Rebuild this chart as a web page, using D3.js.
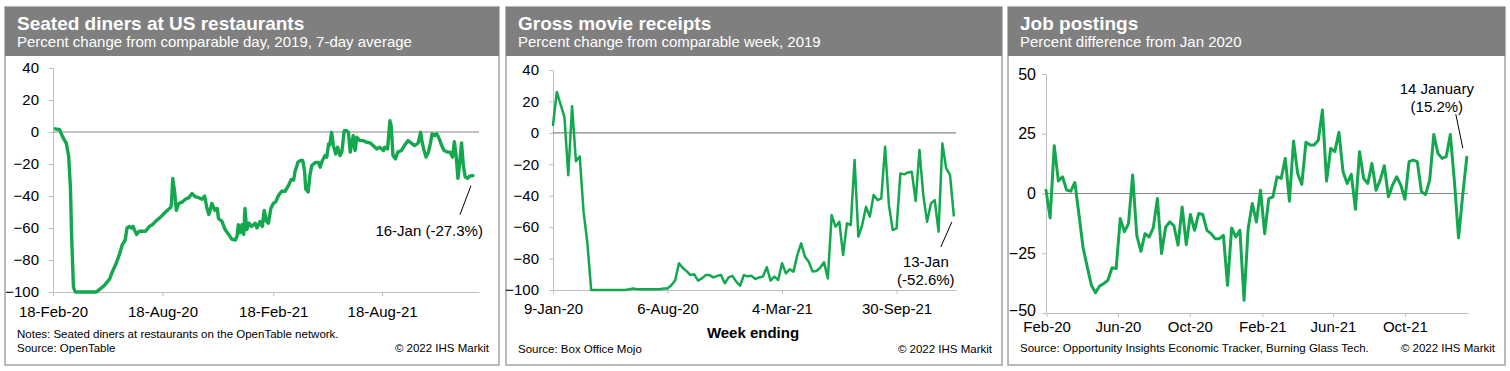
<!DOCTYPE html>
<html>
<head>
<meta charset="utf-8">
<script src="https://cdn.jsdelivr.net/npm/d3@7"></script>
<style>
    body { margin: 0; background: #fff; }
    svg text { font-family: "Liberation Sans", Arial, sans-serif; }
</style>
</head>
<body>
<svg id="chart" width="1510" height="371"></svg>
<script>
// Seated diners, 7-day average
var dinersDates = ["2020-02-22","2020-02-29","2020-03-05","2020-03-11","2020-03-15","2020-03-18","2020-03-20","2020-03-23","2020-03-26","2020-04-30",
    "2020-05-05","2020-05-13","2020-05-22","2020-05-27","2020-06-01","2020-06-07","2020-06-12","2020-06-17","2020-06-20","2020-06-24",
    "2020-06-27","2020-06-30","2020-07-02","2020-07-06","2020-07-10","2020-07-16","2020-07-21","2020-07-27","2020-08-01","2020-08-07",
    "2020-08-12","2020-08-18","2020-08-23","2020-08-29","2020-09-01","2020-09-02","2020-09-04","2020-09-07","2020-09-10","2020-09-14",
    "2020-09-20","2020-09-25","2020-10-01","2020-10-06","2020-10-12","2020-10-17","2020-10-23","2020-10-27","2020-10-31","2020-11-03",
    "2020-11-06","2020-11-08","2020-11-13","2020-11-17","2020-11-19","2020-11-25","2020-11-30","2020-12-06","2020-12-11","2020-12-17",
    "2020-12-20","2020-12-22","2020-12-25","2020-12-28","2020-12-31","2021-01-02","2021-01-05","2021-01-09","2021-01-13","2021-01-19",
    "2021-01-22","2021-01-27","2021-01-31","2021-02-03","2021-02-07","2021-02-10","2021-02-14","2021-02-18","2021-02-22","2021-02-27",
    "2021-03-04","2021-03-10","2021-03-15","2021-03-20","2021-03-24","2021-03-26","2021-03-31","2021-04-04","2021-04-08","2021-04-11",
    "2021-04-13","2021-04-17","2021-04-20","2021-04-23","2021-04-29","2021-05-04","2021-05-07","2021-05-10","2021-05-15","2021-05-18",
    "2021-05-21","2021-05-23","2021-05-26","2021-05-29","2021-06-02","2021-06-05","2021-06-09","2021-06-12","2021-06-16","2021-06-20",
    "2021-06-23","2021-06-26","2021-06-28","2021-07-01","2021-07-04","2021-07-07","2021-07-12","2021-07-18","2021-07-23","2021-07-29",
    "2021-08-03","2021-08-09","2021-08-14","2021-08-20","2021-08-22","2021-08-27","2021-08-31","2021-09-02","2021-09-05","2021-09-09",
    "2021-09-13","2021-09-19","2021-09-24","2021-09-30","2021-10-05","2021-10-11","2021-10-17","2021-10-21","2021-10-23","2021-10-26",
    "2021-10-30","2021-11-03","2021-11-06","2021-11-09","2021-11-13","2021-11-17","2021-11-21","2021-11-25","2021-11-29","2021-12-05",
    "2021-12-09","2021-12-13","2021-12-16","2021-12-19","2021-12-22","2021-12-25","2021-12-28","2021-12-31","2022-01-03","2022-01-07",
    "2022-01-11","2022-01-16"];
var dinersValues = [2,1.5,-3,-7,-15,-35,-66,-97,-100,-100,
    -98.5,-96,-92,-87,-83,-77,-70.6,-67.5,-60,-59,
    -60,-59,-61,-64,-62,-62,-62,-59,-58,-55.7,
    -54,-52,-50,-48,-47,-44,-29,-37,-49,-44.7,
    -43.7,-42,-41,-38.5,-40.6,-41,-42,-40,-47.8,-51.5,
    -47.8,-44.7,-48.9,-47.8,-54,-56,-61,-64,-67,-67.5,
    -65,-58,-63,-58,-64,-47.8,-61,-57,-59,-57,
    -60,-56,-59,-49,-56,-57,-47.8,-44.7,-43.7,-39.5,
    -37,-37,-33.7,-29.6,-30,-25,-19,-17.8,-17.8,-24,
    -35.4,-37.5,-27,-21,-19,-19,-22,-18.4,-14.7,-15.7,
    -7.5,-8,-0.2,-8.5,-13.7,-9.5,-14.7,-12.6,0.8,0.8,
    -0.2,-12.6,-8.5,-2.3,-11.6,-3.3,-5.4,-5.4,-6.4,-6.8,
    -8.5,-10.6,-9.5,-11.6,-9.5,-10.6,7,4,-14.7,-16.8,
    -12.6,-11.6,-8.5,-5.4,-6.8,-8.5,-6.8,-0.2,-5.4,-10.6,
    -15.7,-12.6,-7.5,-1.2,-2.3,-1.2,-4.3,-8.5,-11.6,-12.6,
    -12.6,-15.7,-6,-14.7,-29,-18.8,-6.8,-21,-28,-29,
    -27.5,-27.3];
var dinersTicks = ["2020-02-18","2020-08-18","2021-02-18","2021-08-18"];

// Gross movie receipts, weekly, week ending 9-Jan-20 .. 13-Jan-22
var movieFirstWeek = "2020-01-09";
var movieValues = [5,26,18,10,-27,17,-18,-15,-50,-70,
    -100,-100,-100,-100,-100,-100,-100,-100,-100,-100,
    -99.5,-99,-99.5,-99.5,-99.5,-99.5,-99.5,-99.5,-99.5,-99,
    -99,-97,-94,-83,-86,-88,-90.5,-90,-94,-92.6,
    -90.5,-90.5,-92,-91,-90.5,-95.7,-92,-91,-94.7,-97.3,
    -90.5,-91.3,-91,-93,-92,-91.5,-85.5,-94,-91.5,-93.6,
    -83,-89.4,-86.8,-88.3,-77.8,-70.3,-78.8,-82,-88.3,-87.9,
    -85.8,-82.4,-92.6,-52.3,-59.7,-56.6,-77.8,-57.6,-58.7,-17.2,
    -66,-58.7,-47,-53.3,-39.6,-42.8,-41.7,-8.8,-46,-61.8,
    -60.8,-25.8,-26.4,-25.2,-24.8,-43.4,-10.9,-39.6,-56.6,-44.9,
    -42.8,-62.9,-6.7,-22.6,-26.8,-52.6];
var movieTicks = ["2020-01-09","2020-08-06","2021-03-04","2021-09-30"];

// Job postings, weekly, 31-Jan-20 .. 14-Jan-22
var jobsFirstWeek = "2020-01-31";
var jobsValues = [1.4,-10.2,20,5.2,7,1.4,1,4.6,-9,-22.8,
    -30.7,-38.4,-41.5,-38.7,-37.7,-36.3,-31.1,-31.4,-10.5,-16,
    -12.6,7.7,-17.5,-24.2,-16.8,-18.2,-14.4,-2.1,-25.1,-14,
    -11.9,-13.5,-21.6,-5.6,-21.4,-8.8,-15.4,-8.4,-8.8,-15.4,
    -16.8,-18.9,-18.9,-17.5,-38.4,-14.4,-18.2,-15.4,-44.7,-14.7,
    -4.2,-11.9,1.4,-16.8,-2.1,-1.4,7,6.3,14.7,-3.2,
    21.9,8.4,3.8,21.4,20.3,20.3,22.3,34.9,5.2,18.9,
    17.5,25.6,9.1,4.2,8,-6.6,17.5,6.3,4.2,12.6,
    1.4,5.6,11.6,-1.4,3.5,7,3.5,-2.4,13.3,14,
    13.3,0.7,-0.4,5.6,24.7,16.8,14.7,15.4,24.7,4.9,
    -18.6,-0.7,15.2];
var jobsTicks = ["2020-02-01","2020-06-01","2020-10-01","2021-02-01","2021-06-01","2021-10-01"];

var parseDate = d3.timeParse("%Y-%m-%d");
var GREEN = "#13a84e";

function weekly(first, values) {
    var start = parseDate(first);
    return values.map(function(v, i) { return {date: d3.timeWeek.offset(start, i), value: v}; });
}

var svg = d3.select("#chart");

function drawPanel(cfg) {
    var g = svg.append("g");

    g.append("rect")
        .attr("x", cfg.box[0]).attr("y", cfg.box[1])
        .attr("width", cfg.box[2]).attr("height", cfg.box[3])
        .attr("fill", "#fff").attr("stroke", "#a3a3a3").attr("stroke-width", 1.5);
    g.append("rect")
        .attr("x", cfg.box[0]).attr("y", cfg.box[1])
        .attr("width", cfg.box[2]).attr("height", 49)
        .attr("fill", "#7f7f7f");
    g.append("text").attr("x", cfg.textX).attr("y", 30)
        .attr("fill", "#fff").attr("font-size", 19).attr("font-weight", "bold")
        .text(cfg.title);
    g.append("text").attr("x", cfg.textX).attr("y", 47)
        .attr("fill", "#fff").attr("font-size", 15)
        .text(cfg.subtitle);

    var x = d3.scaleTime().domain(cfg.xDomain).range(cfg.xRange);
    var y = d3.scaleLinear().domain(cfg.yDomain).range(cfg.yRange);

    // y axis
    var ya = g.append("g")
        .attr("transform", "translate(" + cfg.xRange[0] + ",0)")
        .call(d3.axisLeft(y).tickValues(cfg.yTicks).tickSize(4).tickPadding(cfg.yPad).tickSizeOuter(0));
    ya.select(".domain").attr("stroke", "#bfbfbf");
    ya.selectAll(".tick line").attr("stroke", "#bfbfbf");
    ya.selectAll("text").attr("font-size", cfg.yFont).attr("fill", "#000")
        .style("font-family", "'Liberation Sans', Arial, sans-serif");
    // lowest label sits a little higher where it would touch the date labels
    if (cfg.lowLabelLift) {
        ya.selectAll(".tick").filter(function(d) { return d === cfg.yDomain[0]; })
            .select("text").attr("y", -cfg.lowLabelLift);
    }

    // x axis at the bottom of the value range
    var xa = g.append("g")
        .attr("transform", "translate(0," + cfg.yRange[0] + ")")
        .call(d3.axisBottom(x).tickValues(cfg.xTicks).tickFormat(d3.timeFormat(cfg.xFormat))
            .tickSize(4).tickPadding(cfg.xPad).tickSizeOuter(0));
    xa.select(".domain").attr("stroke", "#bfbfbf");
    xa.selectAll(".tick line").attr("stroke", "#bfbfbf");
    xa.selectAll("text").attr("font-size", 15).attr("fill", "#000")
        .style("font-family", "'Liberation Sans', Arial, sans-serif");

    // zero line
    g.append("line")
        .attr("x1", cfg.xRange[0]).attr("x2", cfg.xRange[1])
        .attr("y1", y(0)).attr("y2", y(0))
        .attr("stroke", "#868686").attr("stroke-width", 1.2);

    var line = d3.line().x(function(d) { return x(d.date); }).y(function(d) { return y(d.value); });
    g.append("path")
        .datum(cfg.data)
        .attr("d", line)
        .attr("fill", "none").attr("stroke", GREEN)
        .attr("stroke-width", cfg.lineWidth)
        .attr("stroke-linejoin", "round").attr("stroke-linecap", "round");

    // callout for the latest value
    var last = cfg.data[cfg.data.length - 1];
    var lx = x(last.date), ly = y(last.value), n = cfg.note;
    g.append("line")
        .attr("x1", lx + n.lead[0]).attr("y1", ly + n.lead[1])
        .attr("x2", lx + n.lead[2]).attr("y2", ly + n.lead[3])
        .attr("stroke", "#000").attr("stroke-width", 1);
    n.lines.forEach(function(t, i) {
        g.append("text")
            .attr("x", lx + n.dx).attr("y", ly + n.dy + i * 17.5)
            .attr("text-anchor", n.anchor).attr("font-size", 15)
            .text(t);
    });

    if (cfg.xTitle) {
        g.append("text").attr("x", cfg.xTitle[1]).attr("y", cfg.xTitle[2])
            .attr("text-anchor", "middle").attr("font-size", 15).attr("font-weight", "bold")
            .text(cfg.xTitle[0]);
    }

    cfg.footer.forEach(function(f) {
        g.append("text").attr("x", cfg.textX).attr("y", f[1])
            .attr("font-size", 11.5).text(f[0]);
    });
    g.append("text")
        .attr("x", cfg.box[0] + cfg.box[2] - 10).attr("y", cfg.footer[cfg.footer.length - 1][1])
        .attr("text-anchor", "end").attr("font-size", 11.5)
        .text("\u00a9 2022 IHS Markit");
}

drawPanel({
    box: [5, 7, 494, 358],
    textX: 17,
    title: "Seated diners at US restaurants",
    subtitle: "Percent change from comparable day, 2019, 7-day average",
    data: d3.zip(dinersDates, dinersValues).map(function(p) { return {date: parseDate(p[0]), value: p[1]}; }),
    xDomain: [parseDate("2020-02-18"), parseDate("2022-01-26")],
    xRange: [53, 479],
    yDomain: [-100, 40],
    yRange: [292, 68],
    yTicks: [-100, -80, -60, -40, -20, 0, 20, 40],
    yPad: 10, yFont: 15,
    xTicks: dinersTicks.map(parseDate),
    xFormat: "%d-%b-%y", xPad: 10,
    lineWidth: 3.4,
    note: {lines: ["16-Jan (-27.3%)"], anchor: "end", dx: 10, dy: 60, lead: [-13, 39, -2, 10]},
    footer: [["Notes: Seated diners at restaurants on the OpenTable network.", 338], ["Source: OpenTable", 352]]
});

drawPanel({
    box: [506, 7, 496, 358],
    textX: 518,
    title: "Gross movie receipts",
    subtitle: "Percent change from comparable week, 2019",
    data: weekly(movieFirstWeek, movieValues),
    xDomain: [parseDate("2020-01-09"), parseDate("2022-01-17")],
    xRange: [553, 956],
    yDomain: [-100, 40],
    yRange: [290, 70],
    yTicks: [-100, -80, -60, -40, -20, 0, 20, 40],
    yPad: 10, yFont: 15,
    xTicks: movieTicks.map(parseDate),
    xFormat: "%-d-%b-%y", xPad: 9,
    lineWidth: 2.5,
    note: {lines: ["13-Jan", "(-52.6%)"], anchor: "middle", dx: -28, dy: 51.5, lead: [-13, 31.5, -2, 6.5]},
    xTitle: ["Week ending", 753, 338],
    footer: [["Source: Box Office Mojo", 353]]
});

drawPanel({
    box: [1008, 7, 497, 358],
    textX: 1020,
    title: "Job postings",
    subtitle: "Percent difference from Jan 2020",
    data: weekly(jobsFirstWeek, jobsValues),
    xDomain: [parseDate("2020-01-31"), parseDate("2022-01-16")],
    xRange: [1046, 1468],
    yDomain: [-50, 50],
    yRange: [313, 74],
    yTicks: [-50, -25, 0, 25, 50],
    yPad: 6, yFont: 16, lowLabelLift: 3,
    xTicks: jobsTicks.map(parseDate),
    xFormat: "%b-%y", xPad: 4,
    lineWidth: 3,
    note: {lines: ["14 January", "(15.2%)"], anchor: "middle", dx: -30, dy: -63, lead: [-11, -43, -4, -9]},
    footer: [["Source: Opportunity Insights Economic Tracker, Burning Glass Tech.", 352]]
});
</script>
</body>
</html>
